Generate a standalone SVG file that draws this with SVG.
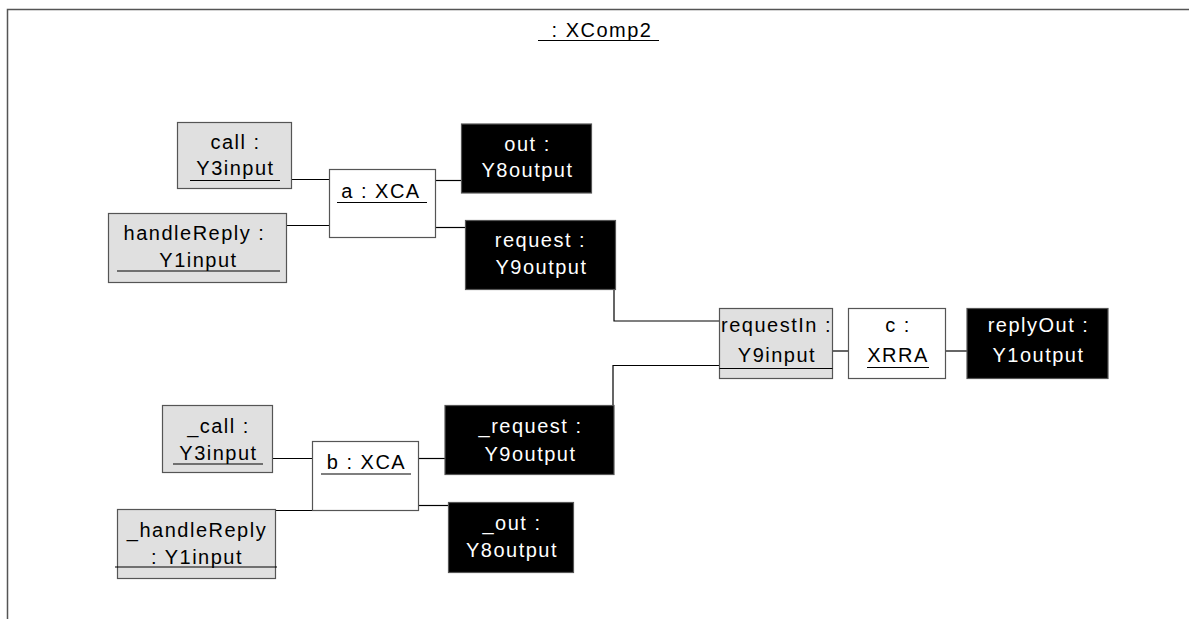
<svg xmlns="http://www.w3.org/2000/svg" width="1189" height="619" viewBox="0 0 1189 619">
<style>
text{font-family:"Liberation Sans",Arial,sans-serif;font-size:20px;letter-spacing:1.5px;text-anchor:middle;}
.in rect{fill:#e0e0e0;stroke:#555;stroke-width:1.2}
.part rect{fill:#fff;stroke:#555;stroke-width:1.2}
.out rect{fill:#000;stroke:#555;stroke-width:1.2}
.out text{fill:#fff}
.ul{stroke:#000;stroke-width:1.2}
#connectors path{fill:none;stroke:#000;stroke-width:1.2}
</style>
<rect width="1189" height="619" fill="#fff"/>
<g id="frame">
<path d="M1189 9.5 H7.5 V619" fill="none" stroke="#555" stroke-width="1.5"/>
<text x="602" y="37">: XComp2</text>
<line class="ul" x1="538" y1="40.5" x2="659" y2="40.5"/>
</g>
<g id="connectors">
<path d="M291 179.5 H329"/>
<path d="M287 225.5 H329"/>
<path d="M436 180.5 H461"/>
<path d="M436 227.5 H465"/>
<path d="M614 290 V321 H719"/>
<path d="M832 351 H848"/>
<path d="M946 351 H967"/>
<path d="M719 365.5 H613 V406"/>
<path d="M273 458.5 H312"/>
<path d="M418 458.5 H445"/>
<path d="M276 510.5 H312"/>
<path d="M418 505.5 H448"/>
</g>
<g id="call" class="in">
<rect x="177.5" y="122.5" width="114" height="66"/>
<text x="235.5" y="149">call :</text>
<text x="235.5" y="174.5">Y3input</text>
<line class="ul" x1="190" y1="180.5" x2="280" y2="180.5"/>
</g>
<g id="handleReply" class="in">
<rect x="108.5" y="213.5" width="178" height="69"/>
<text x="194.5" y="239.5">handleReply :</text>
<text x="198.5" y="266.5">Y1input</text>
<line class="ul" x1="117" y1="271" x2="280" y2="271"/>
</g>
<g id="a" class="part">
<rect x="329.5" y="169.5" width="106" height="68"/>
<text x="381" y="198">a : XCA</text>
<line class="ul" x1="337" y1="202.5" x2="427" y2="202.5"/>
</g>
<g id="out" class="out">
<rect x="461.5" y="124" width="130" height="69"/>
<text x="527.5" y="151">out :</text>
<text x="527.5" y="177">Y8output</text>
</g>
<g id="request" class="out">
<rect x="465.5" y="220.5" width="150" height="69"/>
<text x="540.5" y="247">request :</text>
<text x="541.5" y="274">Y9output</text>
</g>
<g id="requestIn" class="in">
<rect x="719.5" y="308.5" width="113" height="70"/>
<text x="776.5" y="332">requestIn :</text>
<text x="777" y="362">Y9input</text>
<line class="ul" x1="719.5" y1="368.5" x2="832.5" y2="368.5"/>
</g>
<g id="c" class="part">
<rect x="848.5" y="308.5" width="97" height="70"/>
<text x="898" y="332">c :</text>
<text x="898" y="362">XRRA</text>
<line class="ul" x1="867" y1="367.5" x2="929" y2="367.5"/>
</g>
<g id="replyOut" class="out">
<rect x="967" y="308.5" width="141" height="70"/>
<text x="1038.5" y="332">replyOut :</text>
<text x="1038.5" y="362">Y1output</text>
</g>
<g id="_call" class="in">
<rect x="162.5" y="405.5" width="110" height="67"/>
<text x="218.5" y="432.5">_call :</text>
<text x="218.5" y="460">Y3input</text>
<line class="ul" x1="173" y1="464" x2="263" y2="464"/>
</g>
<g id="b" class="part">
<rect x="312.5" y="441.5" width="106" height="69"/>
<text x="366.5" y="469">b : XCA</text>
<line class="ul" x1="321" y1="474" x2="411" y2="474"/>
</g>
<g id="_request" class="out">
<rect x="445" y="405.5" width="169" height="69"/>
<text x="530.5" y="433">_request :</text>
<text x="530.5" y="461">Y9output</text>
</g>
<g id="_out" class="out">
<rect x="448.5" y="502.5" width="125" height="70"/>
<text x="512" y="530">_out :</text>
<text x="512" y="556.5">Y8output</text>
</g>
<g id="_handleReply" class="in">
<rect x="117.5" y="509.5" width="158" height="69"/>
<text x="197" y="537">_handleReply</text>
<text x="197" y="564">: Y1input</text>
<line class="ul" x1="115" y1="567" x2="277" y2="567"/>
</g>
</svg>
